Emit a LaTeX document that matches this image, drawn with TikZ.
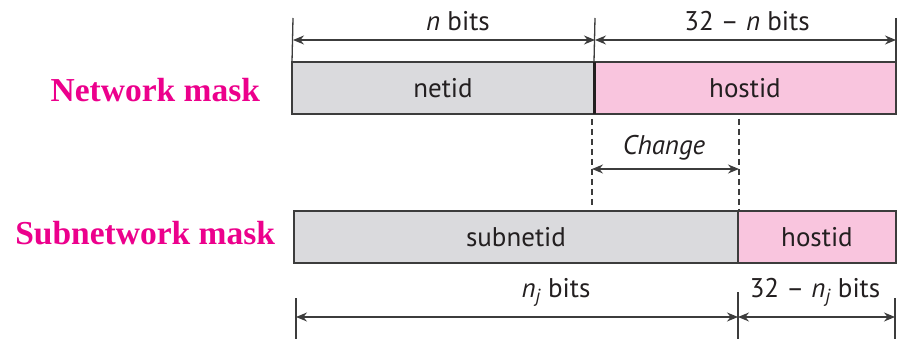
\documentclass[tikz,border=0pt]{standalone}
\usepackage{fontspec}
\setmainfont{Liberation Serif}
\setsansfont{PT Sans}
\usetikzlibrary{positioning,arrows.meta}
\definecolor{MaskMagenta}{RGB}{236,0,140}
\definecolor{FieldGray}{RGB}{218,218,221}
\definecolor{FieldPink}{RGB}{249,197,222}
\definecolor{RuleGray}{RGB}{60,60,60}
\definecolor{InkDark}{RGB}{35,31,32}

\begin{document}
\begin{tikzpicture}[x=1pt, y=-1pt,
    every node/.style={font=\sffamily\fontsize{27}{32}\selectfont, text=InkDark, inner sep=0pt, outer sep=0pt},
    field/.style={draw=RuleGray, line width=1.6pt, minimum height=52pt},
    netfield/.style={field, fill=FieldGray},
    hostfield/.style={field, fill=FieldPink},
    masklabel/.style={font=\rmfamily\bfseries\fontsize{33.5}{38}\selectfont, text=MaskMagenta, anchor=base east},
    bitlabel/.style={anchor=base},
    dim/.style={{Stealth[length=11pt,width=9pt]}-{Stealth[length=11pt,width=9pt]}, draw=RuleGray, line width=1.3pt},
    extent/.style={draw=RuleGray, line width=1.3pt},
    guide/.style={draw=RuleGray, line width=1.3pt, dash pattern=on 6pt off 4pt}
  ]
  \useasboundingbox (0,0) rectangle (897,339);

  % network mask: netid | hostid
  \node[netfield, minimum width=302pt, anchor=north west] (netid) at (292,62) {netid};
  \node[hostfield, minimum width=302pt, right=0pt of netid] (hostid) {hostid};
  \draw[line width=3pt, draw=InkDark] (netid.north east) -- (netid.south east);

  % subnetwork mask: subnetid | hostid
  \node[netfield, minimum width=444pt, anchor=north west] (subnetid) at (294,211) {subnetid};
  \node[hostfield, minimum width=158pt, right=0pt of subnetid] (subhostid) {hostid};

  \node[masklabel] (netmask) at (260,102) {Network mask};
  \node[masklabel] (submask) at (275,245) {Subnetwork mask};

  % widths above the network mask
  \coordinate (nTop) at (293,18);
  \coordinate (mTop) at (595,18);
  \coordinate (rTop) at (896,18);
  \coordinate (nArr) at (293,40);
  \coordinate (mArr) at (595,40);
  \coordinate (rArr) at (896,40);
  \draw[extent] (nTop) -- (netid.north west);
  \draw[extent] (mTop) -- (hostid.north west);
  \draw[extent] (rTop) -- (hostid.north east);
  \draw[dim] (nArr) -- (mArr);
  \draw[dim] (mArr) -- (rArr);
  \node[bitlabel] (nbits) at (458,31) {\textit{n} bits};
  \node[bitlabel] (hbits) at (747,31) {32 – \textit{n} bits};

  % moved boundary
  \coordinate (oldTop) at (592,119);
  \coordinate (oldBot) at (592,208);
  \coordinate (newTop) at (739,119);
  \coordinate (newBot) at (739,211);
  \coordinate (oldArr) at (592,169);
  \coordinate (newArr) at (739,169);
  \draw[guide] (oldTop) -- (oldBot);
  \draw[guide] (newTop) -- (newBot);
  \draw[dim] (oldArr) -- (newArr);
  \node[bitlabel] (change) at (664,155) {\textit{Change}};

  % widths below the subnetwork mask
  \coordinate (sTop) at (296,298);
  \coordinate (sBot) at (296,339);
  \coordinate (jTop) at (738,292);
  \coordinate (jBot) at (738,339);
  \coordinate (eTop) at (895,298);
  \coordinate (eBot) at (895,339);
  \coordinate (sArr) at (296,317);
  \coordinate (jArr) at (738,317);
  \coordinate (eArr) at (895,317);
  \draw[extent] (sTop) -- (sBot);
  \draw[extent] (jTop) -- (jBot);
  \draw[extent] (eTop) -- (eBot);
  \draw[dim] (sArr) -- (jArr);
  \draw[dim] (jArr) -- (eArr);
  \node[bitlabel] (njbits) at (556,298) {\textit{n\textsubscript{j}} bits};
  \node[bitlabel] (hjbits) at (815,298) {32 – \textit{n\textsubscript{j}} bits};
\end{tikzpicture}
\end{document}
